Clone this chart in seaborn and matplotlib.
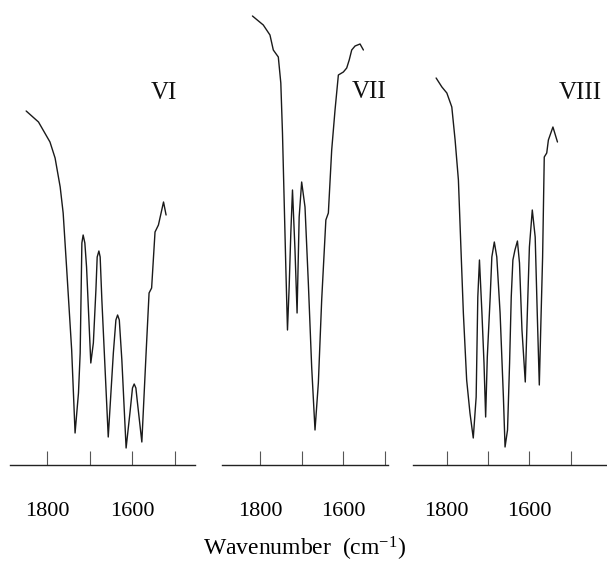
import matplotlib
matplotlib.use("Agg")
import matplotlib.pyplot as plt
import seaborn as sns
import pandas as pd

# ---- data ----
wn_vi = [1849, 1820, 1793, 1781, 1769, 1762, 1754, 1742, 1734, 1726, 1722, 1718, 1715, 1711,
         1707, 1697, 1691, 1685, 1682, 1678, 1675, 1671, 1656, 1644, 1638, 1634, 1630, 1624,
         1614, 1605, 1599, 1595, 1591, 1588, 1577, 1567, 1560, 1554, 1546, 1538, 1526, 1520]
t_vi = [354, 343, 323, 307, 278, 252, 198, 115, 32, 72, 112, 222, 230, 222,
        198, 102, 122, 175, 208, 214, 208, 165, 28, 112, 145, 150, 145, 105,
        17, 52, 77, 81, 77, 65, 23, 112, 172, 177, 233, 240, 263, 250]

wn_vii = [1818, 1792, 1776, 1768, 1756, 1750, 1746, 1742, 1738, 1734, 1730, 1726, 1722, 1716,
          1711, 1706, 1700, 1692, 1684, 1676, 1668, 1660, 1652, 1642, 1636, 1628, 1620, 1612,
          1600, 1592, 1586, 1580, 1572, 1560, 1552]
t_vii = [449, 440, 430, 415, 408, 382, 332, 265, 198, 135, 178, 232, 275, 215,
         152, 248, 283, 258, 182, 98, 35, 82, 165, 245, 252, 315, 355, 390,
         393, 397, 405, 415, 419, 421, 415]

wn_viii = [1826, 1812, 1800, 1788, 1780, 1772, 1766, 1760, 1752, 1744, 1736, 1729, 1725, 1721,
           1715, 1710, 1706, 1702, 1695, 1691, 1685, 1679, 1671, 1663, 1659, 1653, 1648, 1644,
           1640, 1635, 1629, 1624, 1618, 1610, 1605, 1600, 1593, 1586, 1581, 1576, 1572, 1568,
           1564, 1558, 1554, 1543, 1532]
t_viii = [387, 378, 372, 358, 325, 285, 218, 152, 85, 52, 27, 68, 168, 205,
          152, 102, 48, 108, 168, 208, 223, 208, 152, 68, 18, 35, 102, 168,
          205, 215, 224, 202, 135, 83, 152, 218, 255, 228, 152, 80, 145, 208,
          308, 312, 325, 338, 323]

panel_names = ["VI", "VII", "VIII"]
tick_values = [1800, 1700, 1600, 1500]
tick_labels = ["1800", "", "1600", ""]
x_label = "Wavenumber  (cm$^{-1}$)"

# ---- style ----
sns.set_theme(style="white")
plt.rcParams["font.family"] = ["Liberation Serif", "DejaVu Serif"]
plt.rcParams["mathtext.fontset"] = "custom"
plt.rcParams["mathtext.rm"] = "Liberation Serif"
plt.rcParams["mathtext.it"] = "Liberation Serif"
plt.rcParams["mathtext.default"] = "regular"

W, H = 607, 563
fig = plt.figure(figsize=(W / 100, H / 100), dpi=100)

# axes pixel extents and x-limits
specs = [
    (10, 185, (1887, 1452), wn_vi, t_vi, (164, 93)),
    (222, 166, (1891, 1493), wn_vii, t_vii, (369, 92)),
    (413, 194, (1882, 1412), wn_viii, t_viii, (580, 93)),
]
axis_y = 465

for (left, width, xlim, wn, tv, lab), name in zip(specs, panel_names):
    ax = fig.add_axes([left / W, (H - axis_y) / H, width / W, axis_y / H])
    df = pd.DataFrame({"wn": wn, "T": tv})
    sns.lineplot(data=df, x="wn", y="T", sort=False, estimator=None,
                 color="#1a1a1a", linewidth=1.0, ax=ax)
    ax.set_xlim(*xlim)
    ax.set_ylim(0, axis_y)
    ax.patch.set_alpha(0)
    for s in ["top", "left", "right"]:
        ax.spines[s].set_visible(False)
    ax.spines["bottom"].set_color("#222222")
    ax.spines["bottom"].set_linewidth(1.0)
    ax.set_yticks([])
    ax.set_xticks(tick_values)
    ax.set_xticklabels(tick_labels)
    ax.tick_params(axis="x", direction="in", length=10, width=0.8, color="#555555",
                   pad=27, labelsize=16, labelcolor="black", bottom=True)
    ax.set_xlabel("")
    ax.set_ylabel("")
    fig.text(lab[0] / W, 1 - lab[1] / H, name, ha="center", va="center",
             fontsize=18, color="#111111")

fig.text(305 / W, 1 - 549 / H, x_label, ha="center", va="center",
         fontsize=17, color="black")

fig.savefig("out.png", dpi=100)
